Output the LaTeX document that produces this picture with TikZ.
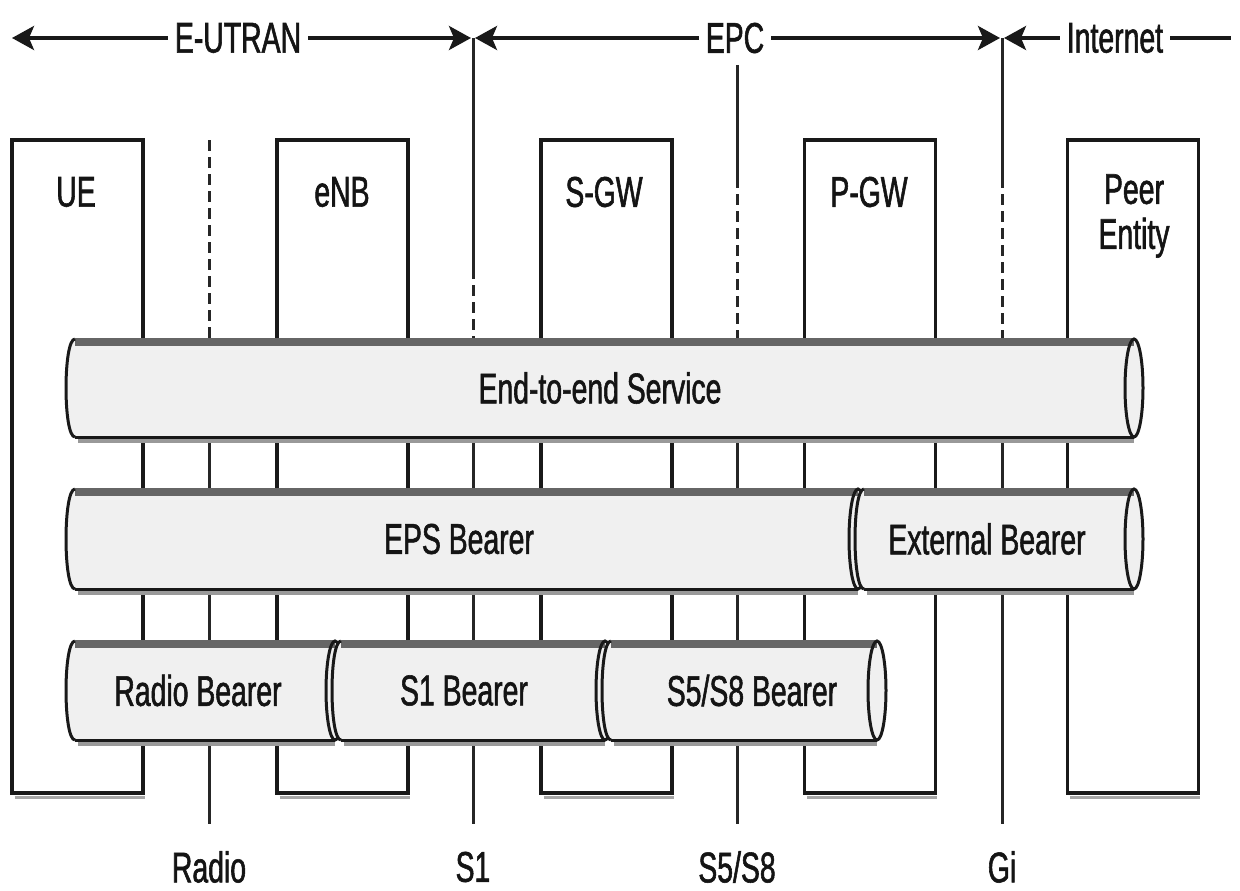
\documentclass[tikz,border=0pt]{standalone}
\usepackage{fontspec}
\setmainfont[FakeStretch=0.66,FakeBold=1.3]{Liberation Sans}
\usetikzlibrary{arrows.meta}
\tikzset{
  lbl/.style={inner sep=0pt, text=black!92},
  toplbl/.style={fill=white, inner sep=0pt, minimum height=36pt, inner xsep=7pt, text=black!92},
  ifline/.style={line width=3pt, black!85},
  ifdash/.style={line width=3pt, black!85, dash pattern=on 11pt off 6pt},
  entbox/.style={draw=black!90, line width=3.5pt, minimum width=131pt, minimum height=653pt, inner sep=0pt},
  boxshadow/.style={line width=3pt, black!35},
  spanarrow/.style={line width=3.5pt, black!90},
  pipefill/.style={fill=black!6},
  pipeband/.style={line width=8pt, black!60},
  pipeshadow/.style={line width=5pt, black!40},
  pipeline/.style={line width=3pt, black!90},
}
\newcommand\bearer[7]{%
  % #1 left corner x, #2 right end centre x, #3 top y, #4 bottom y, #5 name, #6 text x, #7 text
  \pgfmathsetmacro\brmid{(#3+#4)/2}
  \pgfmathsetmacro\bry{(#4-#3)/2}
  \draw[pipeshadow] (#1+3,#4+3) -- (#2,#4+3);
  \fill[pipefill] (#1,#3) .. controls (#1-12,#3) and (#1-12,#4) .. (#1,#4)
     -- (#2,#4) .. controls (#2+12,#4) and (#2+12,#3) .. (#2,#3) -- cycle;
  \draw[pipeband] (#1,#3+3) -- (#2,#3+3);
  \draw[pipeline] (#1,#4) -- (#2,#4);
  \draw[pipeline] (#1,#3) .. controls (#1-12,#3) and (#1-12,#4) .. (#1,#4);
  \draw[pipeline] (#2,\brmid) ellipse [x radius=9pt, y radius=\bry pt];
  \node[lbl] (#5) at (#6,\brmid) {#7};
}
\begin{document}
\begin{tikzpicture}[x=1pt,y=-1pt, font=\fontsize{43}{46}\selectfont]
\useasboundingbox (0,0) rectangle (1240,891);

% ---------- top span arrows ----------
\coordinate (eutranL) at (12,38);
\coordinate (eutranR) at (471,38);
\coordinate (epcL) at (475,38);
\coordinate (epcR) at (1000,38);
\coordinate (inetL) at (1004,38);
\coordinate (inetR) at (1231,38);
\draw[spanarrow, {Stealth[length=22pt,width=24pt,inset=5pt]}-{Stealth[length=22pt,width=24pt,inset=5pt]}] (eutranL) -- (eutranR);
\draw[spanarrow, {Stealth[length=22pt,width=24pt,inset=5pt]}-{Stealth[length=22pt,width=24pt,inset=5pt]}] (epcL) -- (epcR);
\draw[spanarrow, {Stealth[length=22pt,width=24pt,inset=5pt]}-] (inetL) -- (inetR);
\node[toplbl] (eutran) at (238,38) {E-UTRAN};
\node[toplbl] (epc) at (735,38) {EPC};
\node[toplbl] (inet) at (1115,38) {Internet};

% ---------- entity boxes ----------
\foreach \nm/\cx in {ue/77.5, enb/342.5, sgw/606.5, pgw/870, peer/1133}{
  \draw[boxshadow] (\cx-63,797) -- (\cx+67,797);
  \node[entbox] (\nm) at (\cx,466.5) {};
}
\node[lbl] (uel) at (76,192) {UE};
\node[lbl] (enbl) at (342,192) {eNB};
\node[lbl] (sgwl) at (604,192) {S-GW};
\node[lbl] (pgwl) at (869,192) {P-GW};
\node[lbl, align=center, font=\fontsize{43}{45}\selectfont] (peerl) at (1134,216) {Peer\\Entity};

% ---------- interface lines ----------
\coordinate (radT) at (209,140);
\coordinate (radM) at (209,338);
\coordinate (radB) at (209,824);
\coordinate (sATop) at (473,38);
\coordinate (sAD) at (473,268);
\coordinate (sAM) at (473,338);
\coordinate (sAB) at (473,824);
\coordinate (sBTop) at (737,65);
\coordinate (sBD) at (737,177);
\coordinate (sBM) at (737,338);
\coordinate (sBB) at (737,824);
\coordinate (giTop) at (1002,38);
\coordinate (giD) at (1002,177);
\coordinate (giM) at (1002,338);
\coordinate (giB) at (1002,824);
\draw[ifdash] (radT) -- (radM);
\draw[ifline] (radM) -- (radB);
\draw[ifline] (sATop) -- (sAD);
\draw[ifdash] (sAD) -- (sAM);
\draw[ifline] (sAM) -- (sAB);
\draw[ifline] (sBTop) -- (sBD);
\draw[ifdash] (sBD) -- (sBM);
\draw[ifline] (sBM) -- (sBB);
\draw[ifline] (giTop) -- (giD);
\draw[ifdash] (giD) -- (giM);
\draw[ifline] (giM) -- (giB);

\node[lbl] (radl) at (209,867) {Radio};
\node[lbl] (s1l) at (473,867) {S1};
\node[lbl] (s58l) at (737,867) {S5/S8};
\node[lbl] (gil) at (1002,867) {Gi};

% ---------- bearers ----------
\bearer{75}{1134}{339}{437}{e2e}{600}{End-to-end Service}
\bearer{75}{858}{489}{589}{eps}{459}{EPS Bearer}
\bearer{864}{1134}{489}{589}{ext}{987}{External Bearer}
\bearer{75}{335}{641}{740}{radio}{198}{Radio Bearer}
\bearer{341}{605}{641}{740}{sone}{464}{S1 Bearer}
\bearer{611}{877}{641}{740}{sfive}{752}{S5/S8 Bearer}

\end{tikzpicture}
\end{document}
